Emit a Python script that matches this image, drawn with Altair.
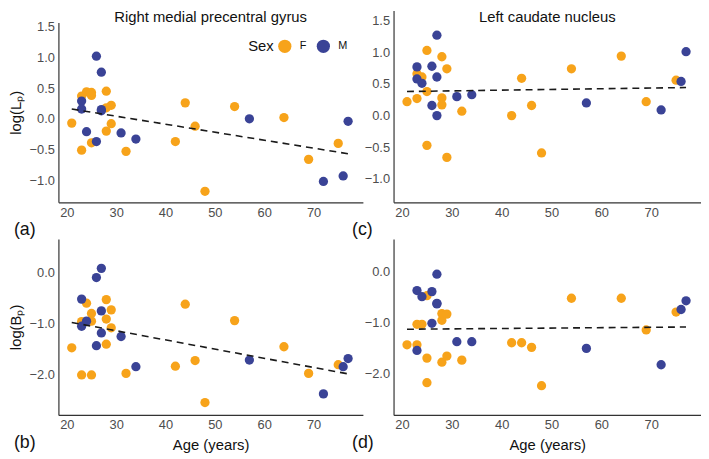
import altair as alt
import pandas as pd

# ---- data ----
ages = [21, 23, 23, 24, 25, 25, 25, 28, 28, 28, 29, 29, 32, 42, 44, 46, 48, 54, 64, 69, 75,
        23, 23, 24, 26, 26, 27, 27, 27, 31, 34, 57, 72, 76, 77]
sex = ["F"] * 21 + ["M"] * 14

lp_precentral = [-0.07, -0.51, 0.37, 0.44, 0.43, 0.38, -0.39, 0.45, 0.18, -0.20, 0.22, -0.08, -0.53,
                 -0.37, 0.26, -0.12, -1.18, 0.20, 0.02, -0.66, -0.40,
                 0.29, 0.16, -0.21, 1.02, -0.37, 0.76, 0.15, 0.13, -0.23, -0.33, 0.00, -1.02, -0.93, -0.04]
bp_precentral = [-1.47, -2.00, -0.96, -0.60, -0.80, -0.95, -2.00, -0.53, -0.91, -1.40, -0.73, -1.08, -1.97,
                 -1.83, -0.62, -1.72, -2.54, -0.94, -1.45, -1.97, -1.80,
                 -0.52, -1.05, -0.95, -0.10, -1.43, 0.08, -0.75, -1.18, -1.25, -1.84, -1.71, -2.37, -1.84, -1.68]
lp_caudate = [0.22, 0.27, 0.66, 0.61, 1.03, 0.38, -0.47, 0.93, 0.28, 0.17, 0.74, -0.66, 0.07,
              0.00, 0.59, 0.16, -0.59, 0.74, 0.94, 0.22, 0.56,
              0.77, 0.58, 0.51, 0.78, 0.16, 1.27, 0.61, 0.00, 0.30, 0.33, 0.20, 0.09, 0.54, 1.01]
bp_caudate = [-1.43, -1.03, -1.43, -1.03, -0.47, -1.69, -2.17, -0.82, -0.95, -1.77, -0.83, -1.65, -1.73,
              -1.39, -1.39, -1.48, -2.23, -0.52, -0.52, -1.14, -0.79,
              -0.37, -1.54, -0.49, -0.39, -1.01, -0.05, -0.63, -0.62, -1.37, -1.37, -1.50, -1.82, -0.74, -0.57]

x_ticks = [20, 30, 40, 50, 60, 70]
x_domain = [18.3, 80.0]
lp_ticks = [-1.0, -0.5, 0.0, 0.5, 1.0, 1.5]
bp_ticks = [-2.0, -1.0, 0.0]
sex_levels = ["F", "M"]
sex_colors = ["#F7A31A", "#3A4396"]

FONT = "Liberation Sans"


def panel(vals, ydom, yticks, w, h, ytitle, xtitle, tag, tag_x, legend=None,
          inner_title=None, ytop=0):
    df = pd.DataFrame({"Age": ages, "Value": vals, "Sex": sex})
    base = alt.Chart(df)
    xaxis = alt.Axis(values=x_ticks, title=xtitle, titlePadding=6, labelOverlap=False,
                     tickCount=len(x_ticks))
    yaxis = alt.Axis(values=yticks, format=".1f", title=ytitle, titlePadding=6,
                     labelOverlap=False, tickCount=len(yticks))
    xenc = alt.X("Age:Q", scale=alt.Scale(domain=x_domain, nice=False, zero=False), axis=xaxis)
    yenc = alt.Y("Value:Q", scale=alt.Scale(domain=ydom, nice=False, zero=False, range=[h, ytop]),
                 axis=yaxis)
    color_kwargs = dict(scale=alt.Scale(domain=sex_levels, range=sex_colors))
    color_kwargs["legend"] = legend if legend is not None else None
    pts = base.mark_circle(size=88, opacity=1).encode(
        x=xenc, y=yenc, color=alt.Color("Sex:N", **color_kwargs),
    )
    line = base.transform_regression("Age", "Value").mark_line(
        strokeDash=[7, 5], color="#1a1a1a", strokeWidth=1.6
    ).encode(x=xenc, y=yenc)
    tag_layer = alt.Chart(pd.DataFrame({"t": [tag]})).mark_text(
        align="left", baseline="middle", fontSize=18, font=FONT, color="#111111"
    ).encode(text="t:N", x=alt.value(tag_x), y=alt.value(h + 28))
    layers = [pts, line, tag_layer]
    if inner_title is not None:
        ttl = alt.Chart(pd.DataFrame({"t": [inner_title]})).mark_text(
            align="center", baseline="top", fontSize=15, font=FONT, color="#111111"
        ).encode(text="t:N", x=alt.value(w / 2), y=alt.value(0))
        layers.append(ttl)
    return alt.layer(*layers).properties(width=w, height=h)


leg = alt.Legend(
    orient="none", legendX=192, legendY=29, direction="horizontal",
    title="Sex", titleOrient="left", titleFontSize=15, titleFontWeight="normal",
    titleColor="#111111", titleFont=FONT, titlePadding=4, titleBaseline="middle",
    labelFontSize=11, labelFont=FONT, labelColor="#111111", labelOffset=8,
    symbolSize=180, symbolType="circle", symbolStrokeWidth=0, symbolOpacity=1,
    columnPadding=10,
)

pa = panel(lp_precentral, [-1.36, 1.57], lp_ticks, 308, 194,
           "log(Lₚ)", None, "(a)", -45, legend=leg,
           inner_title="Right medial precentral gyrus", ytop=12)
pb = panel(bp_precentral, [-2.78, 0.655], bp_ticks, 308, 178,
           "log(Bₚ)", "Age (years)", "(b)", -45)
pc = panel(lp_caudate, [-1.37, 1.66], lp_ticks, 311, 194,
           None, None, "(c)", -42, inner_title="Left caudate nucleus")
pd_ = panel(bp_caudate, [-2.80, 0.64], bp_ticks, 311, 178,
            None, "Age (years)", "(d)", -42)

col1 = alt.vconcat(pa, pb, spacing=0).resolve_scale(color="independent")
col2 = alt.vconcat(pc, pd_, spacing=0).resolve_scale(color="independent")

chart = alt.hconcat(col1, col2, spacing=-11).resolve_scale(color="independent").properties(
    padding=0
).configure_view(stroke=None).configure_axis(
    grid=False, ticks=False, domainColor="#333333", domainWidth=1.2,
    labelColor="#4d4d4d", labelFont=FONT, labelFontSize=13, labelPadding=4,
    titleFont=FONT, titleFontSize=15, titleFontWeight="normal", titleColor="#111111",
)

chart.save("out.html", embed_options={"renderer": "svg", "actions": False})
